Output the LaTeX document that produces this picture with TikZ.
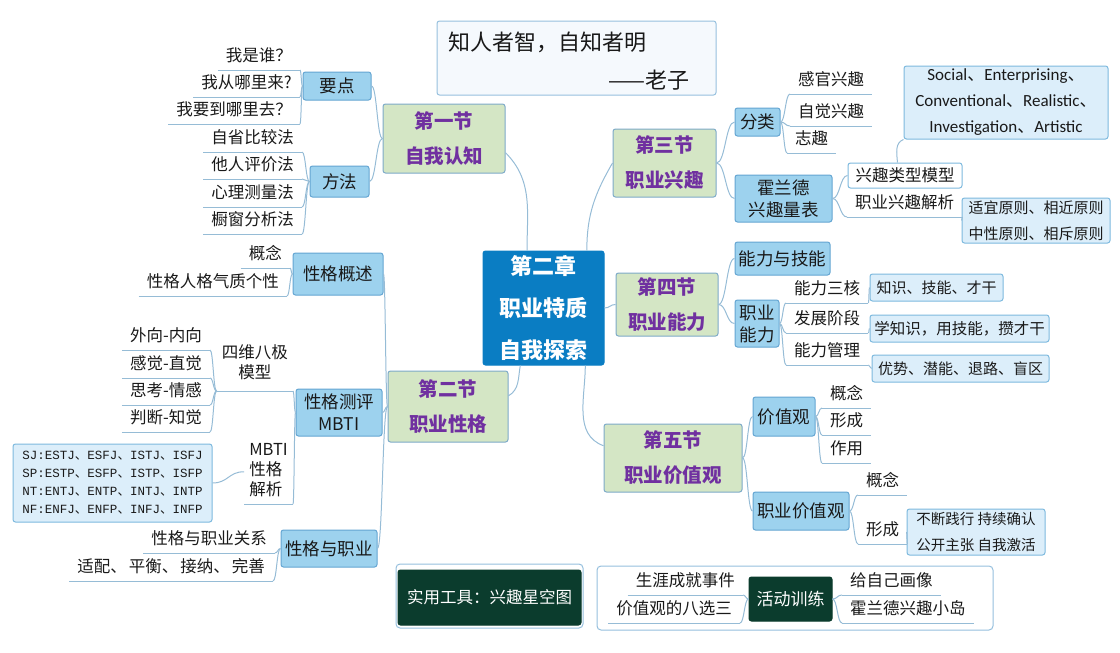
\documentclass[tikz,border=0pt]{standalone}
\usepackage{fontspec}
\setmainfont{Noto Sans CJK SC}
\newfontfamily\cjkf{Noto Sans CJK SC}
\newfontfamily\latf{Carlito}
\newfontfamily\monof{Liberation Mono}
\usetikzlibrary{calc}
\newcommand\dn{{\cjkf 、}}
\definecolor{cenC}{RGB}{10,125,195}
\definecolor{secF}{RGB}{212,230,197}
\definecolor{secB}{RGB}{125,170,200}
\definecolor{purp}{RGB}{112,48,160}
\definecolor{subF}{RGB}{157,210,238}
\definecolor{subB}{RGB}{100,165,210}
\definecolor{detF}{RGB}{220,238,250}
\definecolor{detB}{RGB}{125,185,222}
\definecolor{lineC}{RGB}{150,188,214}
\definecolor{dkG}{RGB}{11,60,45}
\definecolor{frB}{RGB}{150,192,222}
\definecolor{qF}{RGB}{245,249,253}
\definecolor{txt}{RGB}{25,25,25}
\begin{document}
\begin{tikzpicture}[x=1pt,y=-1pt,
 conn/.style={draw=lineC,line width=1pt},
 hc/.style={to path={let \p1=(\tikztostart),\p2=(\tikztotarget) in .. controls ({0.5*\x1+0.5*\x2},\y1) and ({0.5*\x1+0.5*\x2},\y2) .. (\tikztotarget)}},
 box/.style={rounded corners=2.5pt, inner sep=0pt, align=center, line width=1pt},
 cen/.style={box, fill=cenC, draw=cenC, text=white, font=\bfseries\fontsize{22}{42}\selectfont},
 sec/.style={box, fill=secF, draw=secB, text=purp, font=\bfseries\fontsize{19.5}{35}\selectfont},
 sub/.style={box, fill=subF, draw=subB, text=txt, font=\fontsize{17.5}{22}\selectfont},
 det/.style={box, fill=detF, draw=detB, text=txt, font=\fontsize{15}{26}\selectfont},
 dark/.style={box, fill=dkG, draw=dkG, text=white, font=\fontsize{16.5}{20}\selectfont},
 outframe/.style={box, fill=white, draw=frB, rounded corners=4pt},
 leaf/.style={inner xsep=8pt, inner ysep=4pt, text depth=4pt, text=txt, font=\fontsize{16.5}{20}\selectfont},
 leafL/.style={leaf, anchor=south east, align=right},
 leafR/.style={leaf, anchor=south west, align=left},
]
\useasboundingbox (0,0) rectangle (1120,653);
% frames
\node[outframe, minimum width=187, minimum height=64] (ftool) at (489.5,596) {};
\node[outframe, minimum width=396, minimum height=64] (fact) at (795,598) {};
% quote
\node[box, fill=qF, draw=frB, minimum width=279, minimum height=74] (q) at (576.5,58) {};
\node[anchor=west, inner sep=0pt, text=txt, font=\fontsize{22}{26}\selectfont] (q1) at (448,42) {知人者智，自知者明};
\node[anchor=east, inner sep=0pt, text=txt, font=\fontsize{22}{26}\selectfont] (q2) at (690,80) {——老子};
% center and sections
\node[cen, minimum width=121, minimum height=114] (ch) at (543.5,308) {第二章\\职业特质\\自我探索};
\node[sec, minimum width=122, minimum height=69] (s1) at (444,138.5) {第一节\\自我认知};
\node[sec, minimum width=120, minimum height=71] (s2) at (448,406.5) {第二节\\职业性格};
\node[sec, minimum width=103, minimum height=68] (s3) at (664.5,163) {第三节\\职业兴趣};
\node[sec, minimum width=102, minimum height=63] (s4) at (667,304.5) {第四节\\职业能力};
\node[sec, minimum width=138, minimum height=68] (s5) at (673,458) {第五节\\职业价值观};
% sub boxes
\node[sub, minimum width=68, minimum height=28] (byd) at (337,86) {要点};
\node[sub, minimum width=59, minimum height=31] (bff) at (339.5,181.5) {方法};
\node[sub, minimum width=90, minimum height=42] (bxg) at (338,274) {性格概述};
\node[sub, minimum width=86, minimum height=47] (bcp) at (339,412.5) {性格测评\\MBTI};
\node[sub, minimum width=96, minimum height=37] (bzy) at (329,548.5) {性格与职业};
\node[sub, minimum width=45, minimum height=28] (bfl) at (757.5,122) {分类};
\node[sub, minimum width=97, minimum height=47] (bhl) at (783.5,198.5) {霍兰德\\兴趣量表};
\node[sub, minimum width=95, minimum height=33] (bnj) at (782.5,258.5) {能力与技能};
\node[sub, minimum width=44, minimum height=47] (bzn) at (757,323.5) {职业\\能力};
\node[sub, minimum width=62, minimum height=39] (bjz) at (784,416.5) {价值观};
\node[sub, minimum width=96, minimum height=38] (bzj) at (801,511) {职业价值观};
% detail boxes
\node[det, font=\latf\fontsize{17}{26}\selectfont, minimum width=204, minimum height=73] (dsoc) at (1006,102.5) {Social\dn Enterprising\dn\\Conventional\dn Realistic\dn\\Investigation\dn Artistic};
\node[box, fill=white, draw=detB, text=txt, font=\fontsize{16.5}{20}\selectfont, minimum width=114, minimum height=25] (dixm) at (905,175.5) {兴趣类型模型};
\node[det, minimum width=148, minimum height=45] (dsyz) at (1036,220.5) {适宜原则、相近原则\\中性原则、相斥原则};
\node[det, minimum width=133, minimum height=27] (dzjc) at (936.5,287.5) {知识、技能、才干};
\node[det, font=\fontsize{15.5}{26}\selectfont, minimum width=179, minimum height=27] (dxzs) at (959.5,328.5) {学知识，用技能，攒才干};
\node[det, minimum width=177, minimum height=27] (dys) at (960.5,368.5) {优势、潜能、退路、盲区};
\node[det, font=\fontsize{14.5}{26}\selectfont, minimum width=138, minimum height=46] (dbd) at (976,532) {不断践行 持续确认\\公开主张 自我激活};
\node[det, font=\monof\fontsize{12.5}{18}\selectfont, align=left, minimum width=199, minimum height=78] (dmbti) at (112.5,483) {SJ:ESTJ\dn ESFJ\dn ISTJ\dn ISFJ\\SP:ESTP\dn ESFP\dn ISTP\dn ISFP\\NT:ENTJ\dn ENTP\dn INTJ\dn INTP\\NF:ENFJ\dn ENFP\dn INFJ\dn INFP};
% dark boxes
\node[dark, minimum width=183, minimum height=55] (ktool) at (489.5,597.5) {实用工具：兴趣星空图};
\node[dark, font=\fontsize{17}{20}\selectfont, minimum width=83, minimum height=44] (kact) at (790.5,599) {活动训练};
% left leaves
\node[leafL] (lwho) at (300,70) {我是谁？};
\node[leafL] (lfrom) at (300,97) {我从哪里来?};
\node[leafL] (lto) at (300,124) {我要到哪里去？};
\node[leafL] (lm1) at (302,152) {自省比较法};
\node[leafL] (lm2) at (302,179) {他人评价法};
\node[leafL] (lm3) at (302,207) {心理测量法};
\node[leafL] (lm4) at (302,234) {橱窗分析法};
\node[leafL] (lgn) at (290,268) {概念};
\node[leafL] (lrg) at (287,296) {性格人格气质个性};
\node[leafL, align=center, inner xsep=5pt, inner ysep=8pt] (l4d) at (293,391) {四维八极\\模型};
\node[leafL] (lei) at (210,350) {外向-内向};
\node[leafL] (lsn) at (210,378) {感觉-直觉};
\node[leafL] (ltf) at (210,405) {思考-情感};
\node[leafL] (ljp) at (210,432) {判断-知觉};
\node[leafL, align=left, inner xsep=5pt] (lmb) at (293,504) {MBTI\\性格\\解析};
\node[leafL] (lrel) at (275,553) {性格与职业关系};
\node[leafL] (lfit) at (273,581) {适配、\kern2pt 平衡、\kern2pt 接纳、\kern2pt 完善};
\node[leafL] (lach) at (743,595) {生涯成就事件};
\node[leafL] (lv8) at (740,623) {价值观的八选三};
% right leaves
\node[leafR] (rgg) at (790,94) {感官兴趣};
\node[leafR] (rzj) at (790,126) {自觉兴趣};
\node[leafR] (rzq) at (787,153) {志趣};
\node[leafR] (rjx) at (847,217) {职业兴趣解析};
\node[leafR] (rsh) at (786,303) {能力三核};
\node[leafR] (rfz) at (786,333) {发展阶段};
\node[leafR] (rgl) at (786,365) {能力管理};
\node[leafR] (rgn) at (822,408) {概念};
\node[leafR] (rxc) at (822,435) {形成};
\node[leafR] (rzy) at (822,463) {作用};
\node[leafR] (rgn2) at (858,495) {概念};
\node[leafR] (rxc2) at (858,544) {形成};
\node[leafR] (rhx) at (842,595) {给自己画像};
\node[leafR] (rhl) at (842,623) {霍兰德兴趣小岛};
% underlines
\foreach \nm in {lwho,lfrom,lto,lm1,lm2,lm3,lm4,lgn,lrg,l4d,lei,lsn,ltf,ljp,lmb,lrel,lfit,lach,lv8,rgg,rzj,rzq,rjx,rsh,rfz,rgl,rgn,rxc,rzy,rgn2,rxc2,rhx,rhl}
  \draw[conn] (\nm.south west) -- (\nm.south east);
% center connectors
\draw[conn] (ch.106) to[out=90,in=-45] (s1.-13);
\draw[conn] (ch.53) to[out=90,in=-120] (s3.west);
\draw[conn] (ch.east) to[hc] (s4.west);
\draw[conn] (ch.-54) to[out=-90,in=160] (s5.170);
\draw[conn] (ch.-112) to[out=-100,in=30] (s2.10);
% section to sub
\draw[conn] (s1.west) to[hc] (byd.east);
\draw[conn] (s1.west) to[hc] (bff.east);
\draw[conn] (s2.west) to[hc] (bxg.east);
\draw[conn] (s2.west) to[hc] (bcp.east);
\draw[conn] (s2.west) to[hc] (bzy.east);
\draw[conn] (s3.east) to[hc] (bfl.west);
\draw[conn] (s3.east) to[hc] (bhl.west);
\draw[conn] (s4.east) to[hc] (bnj.west);
\draw[conn] (s4.east) to[hc] (bzn.west);
\draw[conn] (s5.east) to[hc] (bjz.west);
\draw[conn] (s5.east) to[hc] (bzj.west);
% sub to leaves (left)
\foreach \nm in {lwho,lfrom,lto} \draw[conn] (byd.west) to[hc] (\nm.south east);
\foreach \nm in {lm1,lm2,lm3,lm4} \draw[conn] (bff.west) to[hc] (\nm.south east);
\foreach \nm in {lgn,lrg} \draw[conn] (bxg.west) to[hc] (\nm.south east);
\foreach \nm in {l4d,lmb} \draw[conn] (bcp.west) to[hc] (\nm.south east);
\foreach \nm in {lei,lsn,ltf,ljp} \draw[conn] (l4d.south west) to[hc] (\nm.south east);
\draw[conn] (dmbti.east) to[hc] (lmb.west);
\foreach \nm in {lrel,lfit} \draw[conn] (bzy.west) to[hc] (\nm.south east);
\foreach \nm in {lach,lv8} \draw[conn] (kact.west) to[hc] (\nm.south east);
% sub to leaves (right)
\foreach \nm in {rgg,rzj,rzq} \draw[conn] (bfl.east) to[hc] (\nm.south west);
\draw[conn] (bhl.east) to[hc] (dixm.west);
\draw[conn] (bhl.east) to[hc] (rjx.south west);
\draw[conn] (dixm.120) to[out=95,in=200] (dsoc.south west);
\draw[conn] (rjx.south east) to[hc] (dsyz.west);
\foreach \nm in {rsh,rfz,rgl} \draw[conn] (bzn.east) to[hc] (\nm.south west);
\draw[conn] (rsh.south east) to[hc] (dzjc.west);
\draw[conn] (rfz.south east) to[hc] (dxzs.west);
\draw[conn] (rgl.south east) to[hc] (dys.west);
\foreach \nm in {rgn,rxc,rzy} \draw[conn] (bjz.east) to[hc] (\nm.south west);
\foreach \nm in {rgn2,rxc2} \draw[conn] (bzj.east) to[hc] (\nm.south west);
\draw[conn] (rxc2.south east) to[hc] (dbd.west);
\foreach \nm in {rhx,rhl} \draw[conn] (kact.east) to[hc] (\nm.south west);
\end{tikzpicture}
\end{document}
